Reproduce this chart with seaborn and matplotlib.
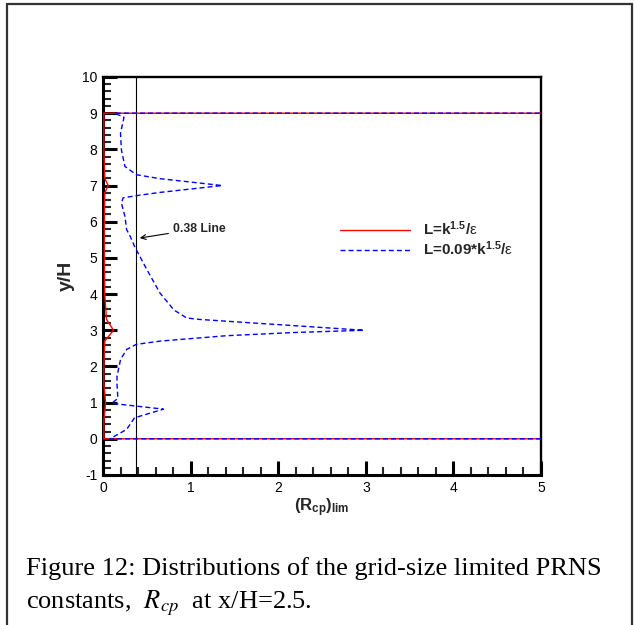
import matplotlib
matplotlib.use("Agg")
import matplotlib.pyplot as plt
from matplotlib.lines import Line2D
import seaborn as sns
import pandas as pd

# ---- data ----
blue_x = [5.0, 0.08, 0.27, 0.36, 0.69, 0.10, 0.17, 0.16, 0.16, 0.20, 0.27, 0.38, 0.65, 1.41, 2.20, 2.98,
          1.10, 0.955, 0.81, 0.65, 0.50, 0.36, 0.31, 0.27, 0.25, 0.21, 0.23, 0.38, 0.65, 1.36,
          0.65, 0.38, 0.25, 0.21, 0.20, 0.24, 0.13, 5.0]
blue_y = [0.0, 0.0, 0.26, 0.58, 0.82, 0.98, 1.12, 1.5, 1.73, 2.19, 2.47, 2.61, 2.70, 2.85, 2.94, 3.0,
          3.30, 3.34, 3.56, 4.03, 4.68, 5.32, 5.6, 5.78, 6.15, 6.52, 6.66, 6.72, 6.81, 7.0,
          7.19, 7.30, 7.53, 7.99, 8.45, 8.89, 9.0, 9.0]

red_x = [5.0, 0.01, 0.01, 0.03, 0.01, 0.01, 0.02, 0.12, 0.04, 0.02, 0.015, 0.015, 0.02, 0.06, 0.02, 0.01, 0.01, 5.0]
red_y = [0.0, 0.0, 0.5, 1.0, 1.5, 2.0, 2.7, 3.0, 3.3, 4.0, 5.0, 6.0, 6.8, 7.0, 7.2, 8.0, 9.0, 9.0]

ref_line_x = 0.38
x_ticks = [0, 1, 2, 3, 4, 5]
y_ticks = [-1, 0, 1, 2, 3, 4, 5, 6, 7, 8, 9, 10]

label_red = r"L=k$^{\mathbf{1.5}}$/$\mathrm{\varepsilon}$"
label_blue = r"L=0.09*k$^{\mathbf{1.5}}$/$\mathrm{\varepsilon}$"

sns.set_theme(style="white")
plt.rcParams["font.family"] = ["Liberation Sans", "DejaVu Sans"]
plt.rcParams["mathtext.fontset"] = "custom"
plt.rcParams["mathtext.rm"] = "Liberation Sans"
plt.rcParams["mathtext.bf"] = "Liberation Sans:bold"
plt.rcParams["mathtext.it"] = "Liberation Sans:italic"
plt.rcParams["axes.unicode_minus"] = False

df_red = pd.DataFrame({"x": red_x, "y": red_y})
df_blue = pd.DataFrame({"x": blue_x, "y": blue_y})

fig = plt.figure(figsize=(6.34, 6.25), dpi=100)
ax = fig.add_axes([103 / 634, 1 - 475 / 625, 438 / 634, 398 / 625])

sns.lineplot(data=df_red, x="x", y="y", sort=False, estimator=None, ax=ax,
             color="#ff0000", lw=1.0, label=label_red, zorder=3)
sns.lineplot(data=df_blue, x="x", y="y", sort=False, estimator=None, ax=ax,
             color="#0000ff", lw=1.0, dashes=False, label=label_blue, zorder=4)
ax.lines[-1].set_dashes((3.6, 2.2))

ax.axvline(ref_line_x, color="black", lw=0.8, zorder=2)
ax.annotate("0.38 Line", xy=(0.42, 5.55), xytext=(0.80, 5.81),
            fontsize=8.8, fontweight="bold", ha="left", va="center",
            arrowprops=dict(arrowstyle="->", color="black", lw=0.8, shrinkA=1, shrinkB=0))

ax.set_xlim(0, 5)
ax.set_ylim(-1, 10)
ax.set_xticks(x_ticks)
ax.set_yticks(y_ticks)
ax.set_xticks([i * 0.2 for i in range(26)], minor=True)
ax.set_yticks([-1 + i * 0.2 for i in range(56)], minor=True)
ax.tick_params(which="major", direction="in", length=10, width=2.2, left=True, bottom=True,
               top=False, right=False, labelsize=10, pad=4, colors="black")
ax.tick_params(which="minor", direction="in", length=6, width=1.5, left=True, bottom=True,
               top=False, right=False)

ax.set_xlabel(r"(R$_{\mathbf{cp}}$)$_{\mathbf{lim}}$", fontsize=12, fontweight="bold", labelpad=1)
ax.set_ylabel("y/H", fontsize=14, fontweight="bold", labelpad=5)

for s in ["left", "bottom"]:
    ax.spines[s].set_linewidth(2.2)
for s in ["top", "right"]:
    ax.spines[s].set_linewidth(1.7)
for s in ax.spines.values():
    s.set_color("black")
    s.set_visible(True)

leg = ax.legend(loc="center left", bbox_to_anchor=((340 - 103) / 438, (475 - 239) / 398),
                frameon=False, handlelength=4.6, handletextpad=0.85, labelspacing=0.08,
                borderpad=0, borderaxespad=0, prop={"weight": "bold", "size": 11})
leg.get_lines()[1].set_dashes((3.6, 2.2))

# outer frame
fc = "#333333"
fig.add_artist(Line2D([7 / 634, 7 / 634], [0, 1 - 4 / 625], color=fc, lw=1.6))
fig.add_artist(Line2D([7 / 634, 632 / 634], [1 - 4 / 625, 1 - 4 / 625], color=fc, lw=1.6))
fig.add_artist(Line2D([632 / 634, 632 / 634], [0, 1 - 4 / 625], color=fc, lw=1.6))

# caption
fig.text(26 / 634, 1 - 575 / 625, "Figure 12: Distributions of the grid-size limited PRNS",
         family="Liberation Serif", fontsize=19, va="baseline", ha="left", color="black")
fig.text(26 / 634, 1 - 608 / 625, r"constants,  $R_{cp}$  at x/H=2.5.",
         family="Liberation Serif", fontsize=19, va="baseline", ha="left", color="black",
         math_fontfamily="stix")

fig.savefig("out.png", dpi=100)
